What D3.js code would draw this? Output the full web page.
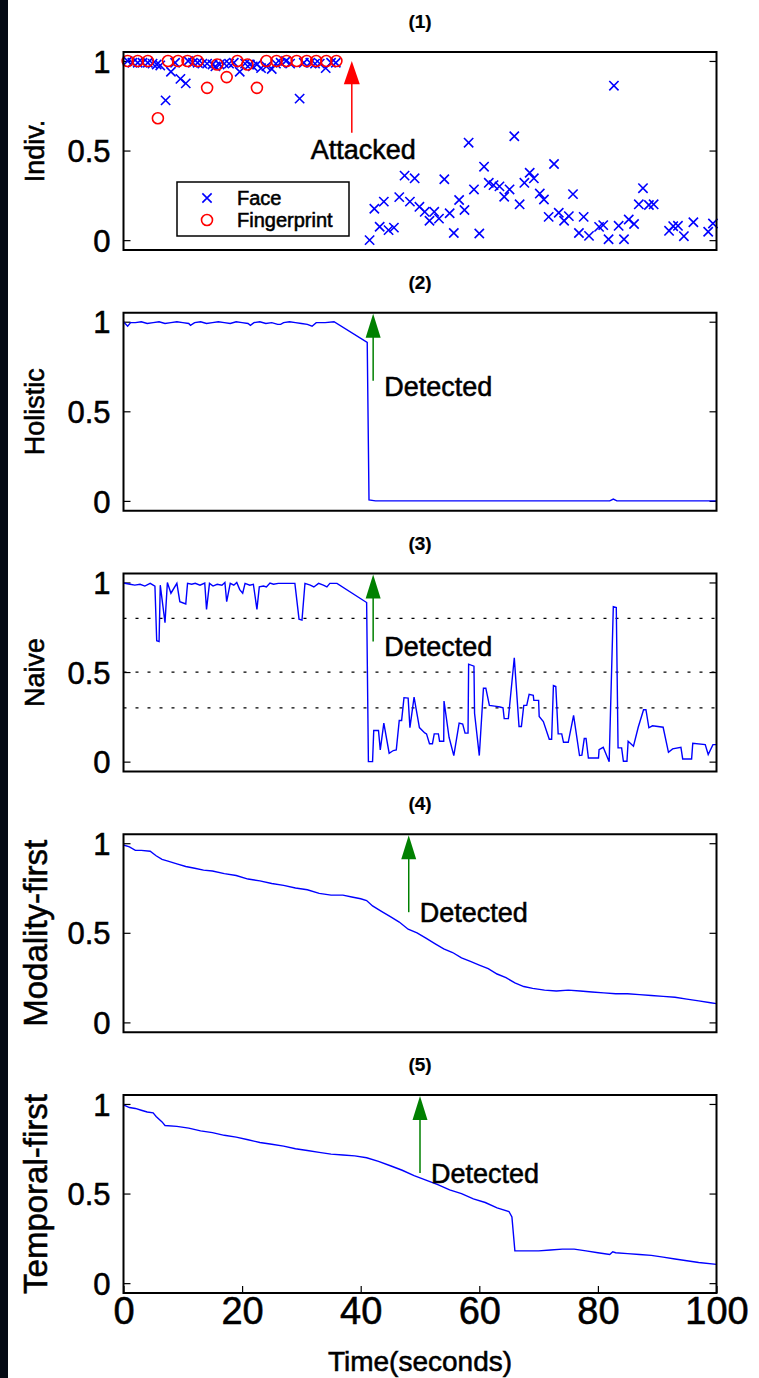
<!DOCTYPE html>
<html>
<head>
<meta charset="utf-8">
<script src="https://cdn.jsdelivr.net/npm/d3@7"></script>
<style>
  body { margin: 0; background: #fff; }
  svg text { font-family: "Liberation Sans", Arial, sans-serif; fill: #000; stroke: #000; stroke-width: 0.55px; }
</style>
</head>
<body>
<div id="chart"></div>
<script>
// tick values / labels
var tTicks = [0, 20, 40, 60, 80, 100];
var yTicks = [0, 0.5, 1];
var panelTitles = ["(1)", "(2)", "(3)", "(4)", "(5)"];
var panelLabels = ["Indiv.", "Holistic", "Naive", "Modality-first", "Temporal-first"];

// (1) individual scores
var faceT = [0.7, 1.5, 2.4, 3.2, 4.1, 4.9, 5.6, 6.2, 7.1, 8.0, 8.7, 9.6, 10.5, 10.9, 11.7, 12.5, 13.3, 14.1, 15.0, 15.5,
  16.2, 17.0, 17.8, 18.6, 19.6, 20.5, 21.3, 21.8, 22.5, 23.2, 24.1, 25.0, 25.7, 26.5, 27.4, 28.1, 29.7, 30.4, 31.5, 32.3,
  33.1, 34.1, 35.0, 35.8,
  41.5, 42.3, 43.2, 43.9, 44.7, 45.6, 46.5, 47.4, 48.3, 49.1, 49.9, 50.8, 51.6, 52.4, 53.2, 54.1, 55.0, 55.7, 56.6, 57.5,
  58.2, 59.1, 60.0, 60.8, 61.6, 62.4, 63.4, 64.2, 65.1, 65.9, 66.8, 67.6, 68.5, 69.2, 70.2, 70.9, 71.7, 72.6, 73.4, 74.3,
  75.1, 75.8, 76.8, 77.6, 78.5, 80.2, 80.9, 81.8, 82.7, 83.5, 84.4, 85.2, 86.1, 86.9, 87.6, 88.6, 89.4, 92.0, 92.7, 93.5,
  94.5, 96.1, 98.6, 99.4];
var faceV = [1.0, 0.99, 0.99, 0.99, 0.99, 0.985, 0.98, 0.975, 0.78, 0.94, 0.99, 0.90, 0.875, 1.0, 0.99, 0.99, 0.985, 0.985, 0.98, 0.97,
  0.98, 0.985, 0.985, 0.99, 0.94, 0.985, 0.98, 0.97, 0.98, 0.96, 0.97, 0.955, 0.985, 0.99, 1.0, 0.985, 0.79, 0.99, 0.99, 0.985,
  0.985, 0.96, 0.99, 0.99,
  0.0, 0.175, 0.075, 0.215, 0.056, 0.07, 0.24, 0.36, 0.215, 0.345, 0.186, 0.158, 0.108, 0.158, 0.12, 0.34, 0.15, 0.04, 0.224, 0.168,
  0.544, 0.283, 0.037, 0.41, 0.32, 0.307, 0.30, 0.242, 0.283, 0.58, 0.2, 0.32, 0.376, 0.345, 0.26, 0.227, 0.13, 0.425, 0.153, 0.108,
  0.134, 0.257, 0.04, 0.13, 0.024, 0.074, 0.084, 0.005, 0.862, 0.08, 0.005, 0.115, 0.09, 0.2, 0.29, 0.196, 0.2, 0.052, 0.078, 0.08,
  0.022, 0.1, 0.047, 0.093];
var fingerT = [0.7, 2.4, 4.1, 5.8, 7.5, 9.2, 10.8, 12.5, 14.1, 15.8, 17.4, 19.2, 20.9, 22.5, 24.1, 25.8, 27.5, 29.2, 30.9, 32.5, 34.2, 35.9];
var fingerV = [1.0, 1.0, 1.0, 0.68, 1.0, 1.0, 1.0, 1.0, 0.85, 0.98, 0.91, 1.0, 0.98, 0.85, 1.0, 1.0, 1.0, 1.0, 1.0, 1.0, 1.0, 1.0];

// (2) holistic
var holisticT = [0, 0.7, 1.2, 2, 3, 4, 5, 6, 7, 8, 9, 10, 11, 11.3, 12, 13, 14, 15, 16, 17, 18, 19, 20, 21, 21.4, 22, 23, 24,
  25, 26, 26.5, 27, 28, 29, 30, 31, 31.8, 32.5, 33, 34, 35.5, 41.1, 41.4, 42.5, 60, 82, 82.6, 83.2, 100];
var holisticV = [1.0, 0.975, 0.995, 0.995, 1.0, 0.99, 0.995, 1.0, 0.99, 0.995, 1.0, 0.995, 0.99, 0.98, 0.995, 1.0, 0.99, 0.995,
  1.0, 0.995, 0.99, 1.0, 0.995, 0.99, 0.98, 0.995, 1.0, 0.99, 0.995, 0.985, 0.985, 0.995, 1.0, 0.995, 0.99, 0.985, 0.975, 0.995,
  0.995, 0.995, 1.0, 0.885, 0.005, 0.0, 0.0, 0.0, 0.01, 0.0, 0.0];

// (3) naive
var naiveT = [0, 1.1, 1.9, 2.8, 3.6, 4.5, 5.3, 5.6, 6.0, 6.2, 7.0, 7.4, 8.0, 9.0, 9.5, 10.5, 10.8, 11.5, 12.1, 12.9, 13.7, 14.0,
  14.5, 15.1, 15.8, 16.6, 17.1, 17.4, 18.0, 18.6, 19.1, 19.6, 20.1, 20.5, 21.3, 21.9, 22.5, 22.9, 23.6, 24.1, 24.7, 25.3, 26.1,
  27.0, 28.1, 28.9, 29.6, 30.1, 30.6, 31.5, 32.1, 32.9, 33.7, 34.3, 34.8, 36.0, 41.0, 41.3, 42.0, 42.2, 43.0,
  43.3, 43.9, 44.8, 45.5, 46.0, 46.5, 46.9, 47.3, 48.0, 48.3, 49.0, 49.9, 50.8, 51.1, 51.6, 52.1, 52.4, 53.1, 53.3, 54.0, 54.05,
  54.9, 55.7, 56.6, 57.2, 57.6, 58.1, 58.2, 59.1, 59.2, 60.0, 60.7, 61.1, 61.7, 62.6, 63.5, 64.0, 64.2, 64.9, 65.9, 66.7, 67.1,
  67.5, 68.0, 68.4, 69.1, 69.2, 70.0, 70.1, 70.8, 71.8, 72.2, 72.5, 72.9, 73.3, 73.9, 74.2, 75.0, 75.9, 76.9, 77.3, 77.7, 78.0,
  78.4, 80.1, 80.2, 80.9, 81.9, 82.6, 83.1, 83.4, 84.0, 84.3, 84.9, 85.1, 86.0, 86.8, 87.7, 88.1, 88.6, 89.2, 91.0, 91.9, 92.6,
  94.0, 94.3, 95.8, 96.0, 98.1, 98.6, 99.4, 100];
var naiveV = [0.997, 0.99, 0.985, 0.99, 0.98, 0.995, 0.98, 0.675, 0.67, 0.985, 0.776, 1.0, 0.94, 0.995, 0.893, 0.88, 0.995, 0.99,
  0.995, 0.985, 0.997, 0.85, 0.995, 0.98, 0.99, 0.985, 1.0, 0.893, 0.995, 0.985, 1.0, 0.96, 0.94, 0.995, 0.985, 0.99, 0.85, 0.975,
  0.98, 0.975, 0.997, 0.99, 0.995, 0.995, 0.995, 0.995, 0.795, 0.79, 0.995, 0.985, 0.975, 0.995, 0.985, 0.975, 0.995, 0.995,
  0.888, 0.0, 0.0, 0.174, 0.174,
  0.066, 0.215, 0.047, 0.062, 0.066, 0.23, 0.23, 0.357, 0.355, 0.19, 0.36, 0.19, 0.16, 0.155, 0.10, 0.10, 0.155, 0.155, 0.114, 0.114,
  0.338, 0.136, 0.034, 0.215, 0.21, 0.159, 0.159, 0.544, 0.533, 0.27, 0.034, 0.41, 0.41, 0.314, 0.31, 0.305, 0.30, 0.24, 0.24,
  0.58, 0.196, 0.196, 0.314, 0.314, 0.376, 0.37, 0.342, 0.342, 0.252, 0.224, 0.125, 0.125, 0.425, 0.42, 0.155, 0.155, 0.108,
  0.108, 0.258, 0.034, 0.036, 0.129, 0.129, 0.02, 0.02, 0.067, 0.08, 0.0, 0.865, 0.86, 0.077, 0.077, 0.002, 0.002, 0.114, 0.086,
  0.192, 0.29, 0.29, 0.189, 0.2, 0.192, 0.052, 0.071, 0.08, 0.015, 0.015, 0.103, 0.095, 0.04, 0.095, 0.095];
var naiveThresholds = [0.8, 0.5, 0.3];

// (4) modality-first
var modalityT = [0, 1, 2, 3, 4.5, 5.5, 6.5, 7.5, 9, 10.5, 12, 13.5, 15, 17, 19, 21, 23, 25, 27, 29, 31, 33, 35, 37, 38.5, 40,
  41, 42, 43.5, 45, 46.5, 48, 49.5, 51, 52.5, 54, 55.5, 57, 58.5, 60, 61.5, 63, 64.5, 66, 67.5, 69, 71, 73, 75, 77, 79, 81,
  83, 85, 87, 89, 91, 93, 95, 97, 99, 100];
var modalityV = [0.99, 0.98, 0.96, 0.96, 0.955, 0.93, 0.91, 0.9, 0.885, 0.87, 0.86, 0.85, 0.845, 0.83, 0.82, 0.8, 0.79, 0.775,
  0.765, 0.75, 0.74, 0.72, 0.71, 0.71, 0.7, 0.69, 0.68, 0.65, 0.62, 0.59, 0.56, 0.52, 0.5, 0.47, 0.44, 0.41, 0.39, 0.36, 0.34,
  0.32, 0.3, 0.27, 0.25, 0.22, 0.2, 0.19, 0.18, 0.175, 0.18, 0.175, 0.17, 0.165, 0.16, 0.16, 0.155, 0.15, 0.145, 0.14, 0.13,
  0.12, 0.11, 0.105];

// (5) temporal-first
var temporalT = [0, 1, 2, 3, 4, 5, 5.5, 6.5, 7, 9, 11, 13, 15, 17, 19, 21, 23, 25, 27, 29, 31, 33, 35, 37, 39, 41, 43, 45,
  47, 49, 51, 53, 55, 57, 59, 61, 63, 65, 65.5, 66, 68, 70, 72, 74, 76, 78, 80, 82, 82.5, 83, 85, 87, 89, 91, 93, 95, 97, 100];
var temporalV = [0.995, 0.98, 0.975, 0.965, 0.955, 0.95, 0.93, 0.9, 0.88, 0.875, 0.865, 0.85, 0.84, 0.825, 0.815, 0.8, 0.785,
  0.775, 0.765, 0.75, 0.74, 0.73, 0.72, 0.715, 0.71, 0.7, 0.68, 0.655, 0.63, 0.6, 0.575, 0.55, 0.52, 0.5, 0.47, 0.45, 0.42,
  0.4, 0.37, 0.18, 0.18, 0.18, 0.185, 0.19, 0.19, 0.18, 0.17, 0.16, 0.175, 0.17, 0.165, 0.16, 0.155, 0.145, 0.135, 0.125, 0.115, 0.105];

// annotation times
var attackTime = 38.5;
var detectTimes = [null, 42.1, 42.1, 48.1, 50.0];

var svgWidth = 759, svgHeight = 1378;
var margin = { left: 123.5, right: 42.5, top: 52 };
var panelH = 198, panelStep = 260.75;
var labelSizes = [27, 27, 27, 33, 33];

var svg = d3.select("#chart").append("svg")
  .attr("width", svgWidth)
  .attr("height", svgHeight);

// dark strip on the left edge
svg.append("rect").attr("x", 0).attr("y", 0).attr("width", 8).attr("height", svgHeight).attr("fill", "#050a14");

var x = d3.scaleLinear().domain([0, 100]).range([margin.left, svgWidth - margin.right]);

var series = [null,
  { t: holisticT, v: holisticV },
  { t: naiveT, v: naiveV },
  { t: modalityT, v: modalityV },
  { t: temporalT, v: temporalV }];

panelLabels.forEach(function (label, i) {
  var top = margin.top + i * panelStep;
  var y = d3.scaleLinear().domain([-0.055, 1.05]).range([top + panelH, top]);
  var g = svg.append("g");

  // title
  g.append("text")
    .attr("x", (x(0) + x(100)) / 2)
    .attr("y", top - 24)
    .attr("text-anchor", "middle")
    .style("font-size", "19px")
    .style("font-weight", "bold")
    .style("stroke-width", "0.2px")
    .text(panelTitles[i]);

  // y label
  g.append("text")
    .attr("transform", "translate(" + (i >= 3 ? 47 : 44) + "," + (top + panelH / 2) + ") rotate(-90)")
    .attr("text-anchor", "middle")
    .style("font-size", labelSizes[i] + "px")
    .text(label);

  // y axes, ticks inside
  var left = g.append("g")
    .attr("transform", "translate(" + x(0) + ",0)")
    .call(d3.axisLeft(y).tickValues(yTicks).tickSize(-7).tickPadding(13).tickFormat(d3.format("")));
  left.select(".domain").remove();
  left.selectAll("line").attr("stroke", "#000").attr("stroke-width", 1.2);
  left.selectAll("text").style("font-size", "31px").attr("dy", "0.36em");

  var right = g.append("g")
    .attr("transform", "translate(" + x(100) + ",0)")
    .call(d3.axisRight(y).tickValues(yTicks).tickSize(-7).tickFormat(""));
  right.select(".domain").remove();
  right.selectAll("line").attr("stroke", "#000").attr("stroke-width", 1.2);

  if (i === 4) {
    var bottom = g.append("g")
      .attr("transform", "translate(0," + (top + panelH) + ")")
      .call(d3.axisBottom(x).tickValues(tTicks).tickSize(-7).tickPadding(4));
    bottom.select(".domain").remove();
    bottom.selectAll("line").attr("stroke", "#000").attr("stroke-width", 1.2);
    bottom.selectAll("text").style("font-size", "38px");

    g.append("text")
      .attr("x", (x(0) + x(100)) / 2)
      .attr("y", top + panelH + 78)
      .attr("text-anchor", "middle")
      .style("font-size", "28px")
      .text("Time(seconds)");
  }

  if (i === 2) {
    g.selectAll(".thr").data(naiveThresholds).enter().append("line")
      .attr("x1", x(0)).attr("x2", x(100))
      .attr("y1", function (d) { return y(d); })
      .attr("y2", function (d) { return y(d); })
      .attr("stroke", "#000")
      .attr("stroke-width", 1.3)
      .attr("stroke-dasharray", "3,9");
  }

  if (i === 0) {
    // face crosses
    var cross = d3.symbol().type(d3.symbolX).size(58);
    g.selectAll(".face").data(faceT).enter().append("path")
      .attr("d", cross)
      .attr("transform", function (d, k) { return "translate(" + x(d) + "," + y(faceV[k]) + ")"; })
      .attr("fill", "none")
      .attr("stroke", "#0000ff")
      .attr("stroke-width", 1.6);
    // fingerprint circles
    g.selectAll(".finger").data(fingerT).enter().append("circle")
      .attr("cx", function (d) { return x(d); })
      .attr("cy", function (d, k) { return y(fingerV[k]); })
      .attr("r", 5.5)
      .attr("fill", "none")
      .attr("stroke", "#ff0000")
      .attr("stroke-width", 1.6);

    // attacked arrow
    var ax = x(attackTime);
    g.append("line")
      .attr("x1", ax).attr("x2", ax)
      .attr("y1", y(0.6)).attr("y2", y(0.9))
      .attr("stroke", "#ff0000").attr("stroke-width", 1.5);
    g.append("path")
      .attr("d", "M" + (ax - 8) + "," + y(0.87) + "L" + (ax + 8) + "," + y(0.87) + "L" + ax + "," + y(1.0) + "Z")
      .attr("fill", "#ff0000");
    g.append("text")
      .attr("x", ax - 41)
      .attr("y", y(0.6) + 26)
      .style("font-size", "27px")
      .text("Attacked");

    // legend
    var lg = g.append("g").attr("transform", "translate(177," + (top + 130) + ")");
    lg.append("rect").attr("width", 172).attr("height", 54)
      .attr("fill", "#fff").attr("stroke", "#000").attr("stroke-width", 1.5);
    lg.append("path").attr("d", cross).attr("transform", "translate(30,16)")
      .attr("fill", "none").attr("stroke", "#0000ff").attr("stroke-width", 1.6);
    lg.append("circle").attr("cx", 30).attr("cy", 38).attr("r", 5.5)
      .attr("fill", "none").attr("stroke", "#ff0000").attr("stroke-width", 1.6);
    lg.append("text").attr("x", 60).attr("y", 16).attr("dy", "0.36em").style("font-size", "20px").text("Face");
    lg.append("text").attr("x", 60).attr("y", 38).attr("dy", "0.36em").style("font-size", "20px").text("Fingerprint");
  } else {
    var s = series[i];
    var line = d3.line()
      .x(function (d) { return x(d); })
      .y(function (d, k) { return y(s.v[k]); });
    g.append("path")
      .datum(s.t)
      .attr("d", line)
      .attr("fill", "none")
      .attr("stroke", "#0000ff")
      .attr("stroke-width", 1.4);

    // detected arrow
    var dx = x(detectTimes[i]);
    var tail = i >= 3 ? 0.615 : 0.67;
    g.append("line")
      .attr("x1", dx).attr("x2", dx)
      .attr("y1", y(tail)).attr("y2", y(0.93))
      .attr("stroke", "#008000").attr("stroke-width", 1.5);
    g.append("path")
      .attr("d", "M" + (dx - 7.5) + "," + y(0.91) + "L" + (dx + 7.5) + "," + y(0.91) + "L" + dx + "," + y(1.045) + "Z")
      .attr("fill", "#008000");
    g.append("text")
      .attr("x", dx + 11)
      .attr("y", y(tail) + (i >= 3 ? 0 : 5))
      .attr("dy", "0.36em")
      .style("font-size", "27px")
      .text("Detected");
  }

  // frame
  g.append("rect")
    .attr("x", x(0)).attr("y", top)
    .attr("width", x(100) - x(0)).attr("height", panelH)
    .attr("fill", "none")
    .attr("stroke", "#000")
    .attr("stroke-width", 2);
});
</script>
</body>
</html>
